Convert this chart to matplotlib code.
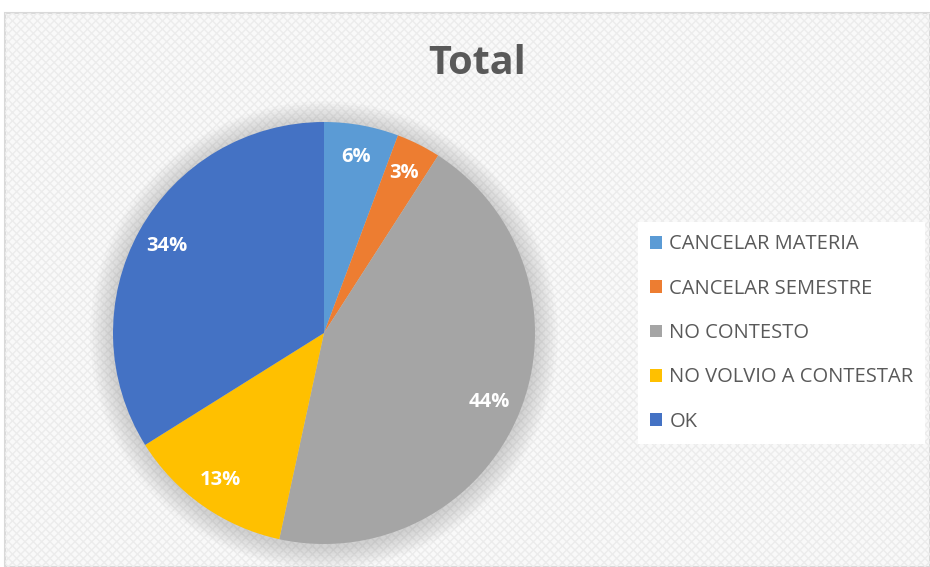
import matplotlib
matplotlib.use("Agg")
import matplotlib.pyplot as plt
from matplotlib.patches import Rectangle, Circle, Patch

categories = ["CANCELAR MATERIA", "CANCELAR SEMESTRE", "NO CONTESTO", "NO VOLVIO A CONTESTAR", "OK"]
values = [5.7, 3.4, 44.3, 12.7, 33.9]
colors = ["#5B9BD5", "#ED7D31", "#A5A5A5", "#FFC000", "#4472C4"]
title = "Total"

W, H = 930, 567
fig = plt.figure(figsize=(W / 100, H / 100), dpi=100)
fig.patch.set_facecolor("white")

# chart area background with border
bg = Rectangle((5 / W, 0), 1 - 5 / W, 1 - 13 / H, transform=fig.transFigure,
               facecolor="#f9f9f9", edgecolor="#d9d9d9", linewidth=1.5, zorder=-2)
fig.patches.append(bg)
tex = Rectangle((5 / W, 0), 1 - 5 / W, 1 - 13 / H, transform=fig.transFigure,
                facecolor="none", edgecolor="#ececec", hatch="xxxx", linewidth=0, zorder=-1)
fig.patches.append(tex)

font = "Open Sans"
fig.text(477 / W, 1 - 63 / H, title, ha="center", va="center", fontsize=28.5,
         fontweight="bold", color="#595959", family=font)

cx, cy, R = 324, 333, 211
ax = fig.add_axes([(cx - R) / W, (H - cy - R) / H, 2 * R / W, 2 * R / H])
ax.set_xlim(-1, 1)
ax.set_ylim(-1, 1)
ax.axis("off")

# soft shadow
for i in range(9):
    ax.add_patch(Circle((0.0, -0.01), 1.0 + 0.012 * (i + 1), color="#808080",
                        alpha=0.04, lw=0, clip_on=False, zorder=0))

wedges, texts, autotexts = ax.pie(
    values, colors=colors, startangle=90, counterclock=False, radius=1.0,
    autopct=lambda p: f"{p:.0f}%", pctdistance=0.85,
    wedgeprops=dict(linewidth=0), frame=False,
    textprops=dict(color="white", fontsize=14.5, fontweight="bold", family=font))
for w in wedges:
    w.set_zorder(2)
for t in autotexts:
    t.set_zorder(3)
ax.set_xlim(-1, 1)
ax.set_ylim(-1, 1)

handles = [Patch(facecolor=c, edgecolor="none") for c in colors]
leg = fig.legend(handles, categories, loc="center left",
                 bbox_to_anchor=(628 / W, 1 - 333 / H), frameon=True,
                 labelspacing=1.21, handlelength=0.6,
                 handleheight=0.6, handletextpad=0.35, borderpad=0.6,
                 prop=dict(family=font, size=14.5))
leg.get_frame().set_facecolor("white")
leg.get_frame().set_edgecolor("none")
leg.get_frame().set_alpha(1)
leg.get_frame().set_boxstyle("square", pad=0)
for t in leg.get_texts():
    t.set_color("#595959")

fig.savefig("out.png", dpi=100)
